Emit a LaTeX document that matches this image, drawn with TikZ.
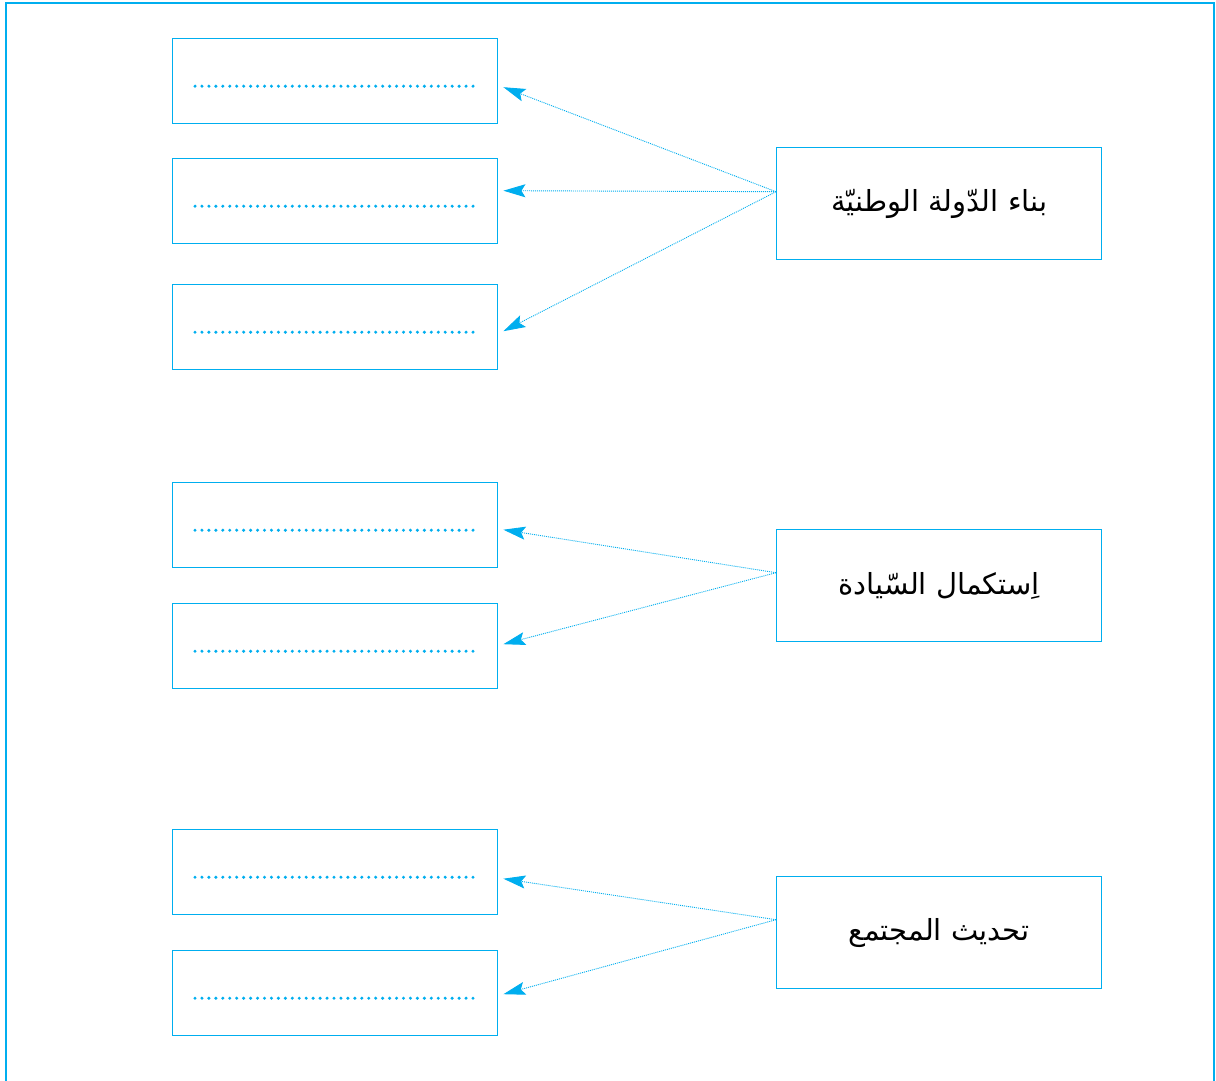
\documentclass[tikz,border=0pt]{standalone}
\usepackage{fontspec}
\newfontfamily\arabicfont[Script=Arabic]{DejaVu Sans}
\TeXXeTstate=1
\usetikzlibrary{arrows.meta,calc}
\definecolor{cy}{RGB}{0,174,239}
\tikzset{
  lbox/.style={draw=cy, line width=1.4pt, minimum width=325pt, minimum height=85pt, inner sep=0pt, anchor=north west},
  rbox/.style={draw=cy, line width=1.4pt, minimum width=325pt, minimum height=112pt, inner sep=0pt, anchor=north west,
    font=\arabicfont\fontsize{29}{34}\selectfont},
  dotline/.style={cy, line width=3.4pt, line cap=round, dash pattern=on 0pt off 6.95pt},
  conn/.style={cy, line width=0.9pt, dash pattern=on 1pt off 1pt,
    -{Stealth[length=22pt,width=13pt,inset=4pt,sep=0pt]}},
}
\begin{document}
\begin{tikzpicture}[x=1pt,y=-1pt]
\useasboundingbox (0,0) rectangle (1216,1081);
% outer frame
\draw[cy, line width=2pt] (5.5,1090) -- (5.5,3.5) -- (1214,3.5) -- (1214,1090);
% left boxes
\node[lbox] (L1) at (172,38) {};
\node[lbox] (L2) at (172,158) {};
\node[lbox] (L3) at (172,284) {};
\node[lbox] (L4) at (172,482) {};
\node[lbox] (L5) at (172,603) {};
\node[lbox] (L6) at (172,829) {};
\node[lbox] (L7) at (172,950) {};
\foreach \n in {L1,L2,L3,L4,L5,L6,L7}{
  \draw[dotline] ($(\n.west)+(23,5)$) -- ($(\n.east)+(-23,5)$);
}
% right boxes
\node[rbox] (R1) at (776,147) {\beginR بناء الدّولة الوطنيّة\endR};
\node[rbox] (R2) at (776,529) {\beginR اِستكمال السّيادة\endR};
\node[rbox] (R3) at (776,876) {\beginR تحديث المجتمع\endR};
% connectors
\draw[conn] ($(R1.west)+(0,-12)$) -- ($(L1.east)+(5,6)$);
\draw[conn] ($(R1.west)+(0,-12)$) -- ($(L2.east)+(5,-10.5)$);
\draw[conn] ($(R1.west)+(0,-12)$) -- ($(L3.east)+(5,4)$);
\draw[conn] ($(R2.west)+(0,-13)$) -- ($(L4.east)+(5,4.5)$);
\draw[conn] ($(R2.west)+(0,-13)$) -- ($(L5.east)+(5,-2)$);
\draw[conn] ($(R3.west)+(0,-13)$) -- ($(L6.east)+(5,6.5)$);
\draw[conn] ($(R3.west)+(0,-13)$) -- ($(L7.east)+(5,1)$);
\end{tikzpicture}
\end{document}
